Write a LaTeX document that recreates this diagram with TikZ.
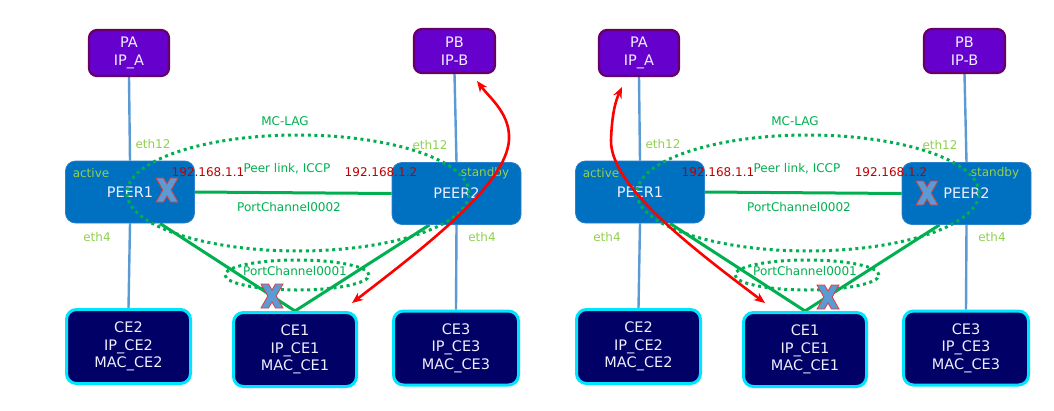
\documentclass[tikz,border=0pt]{standalone}
\usepackage{fontspec}
\setmainfont{DejaVu Sans}
\usetikzlibrary{shapes.geometric,arrows.meta}
\definecolor{pfill}{HTML}{6600CC}
\definecolor{pdraw}{HTML}{660066}
\definecolor{peerfill}{HTML}{0070C0}
\definecolor{peerdraw}{HTML}{2A82CC}
\definecolor{cefill}{HTML}{000066}
\definecolor{cedraw}{HTML}{00E5FF}
\definecolor{lnblue}{HTML}{5B9BD5}
\definecolor{lngreen}{HTML}{00B050}
\definecolor{lblgreen}{HTML}{92D050}
\definecolor{ipred}{HTML}{C00000}
\definecolor{xred}{HTML}{E03C3C}
\definecolor{arrred}{HTML}{FF0000}
\definecolor{boxtext}{HTML}{EEEEFF}
\pgfdeclarelayer{bg}
\pgfsetlayers{bg,main}
\tikzset{
  pbox/.style={draw=pdraw, fill=pfill, line width=2.2pt, rounded corners=8pt, text=boxtext,
    align=center, font=\fontsize{14.5}{18}\selectfont, inner sep=0pt},
  peerbox/.style={draw=peerdraw, fill=peerfill, line width=0.8pt, rounded corners=10pt,
    text=boxtext, font=\fontsize{14.5}{17}\selectfont, inner sep=0pt,
    minimum width=129pt, minimum height=62pt},
  cebox/.style={draw=cedraw, fill=cefill, line width=3pt, rounded corners=10pt, text=boxtext,
    align=center, font=\fontsize{14.5}{17.5}\selectfont, inner sep=0pt,
    minimum width=124pt, minimum height=74pt},
  bline/.style={draw=lnblue, line width=2.4pt},
  gline/.style={draw=lngreen, line width=3pt},
  dotell/.style={ellipse, draw=lngreen, line width=3pt, dash pattern=on 3pt off 3.6pt, inner sep=0pt},
  glbl/.style={text=lngreen, font=\fontsize{12}{13}\selectfont, inner sep=0pt},
  ylbl/.style={text=lblgreen, font=\fontsize{12}{13}\selectfont, inner sep=0pt},
  iplbl/.style={text=ipred, font=\fontsize{12}{13}\selectfont, inner sep=0pt},
  redarrow/.style={draw=arrred, line width=2.6pt,
    {Stealth[length=11pt,width=9pt]}-{Stealth[length=11pt,width=9pt]}},
  xmark/.style={fill=lnblue, draw=xred, line width=0.8pt},
}
\newcommand\crossmark[1]{%
  \begin{scope}[shift={(#1)}]
    \draw[xmark] (-11,-12) -- (-3.5,-12) -- (0,-6) -- (3.5,-12) -- (11,-12) -- (4.2,0)
      -- (11,12) -- (3.5,12) -- (0,6) -- (-3.5,12) -- (-11,12) -- (-4.2,0) -- cycle;
  \end{scope}}
\newcommand\mypanel[1]{%
  \node[pbox, minimum width=80pt, minimum height=46pt] (#1PA) at (129,53) {PA\\IP\_A};
  \node[pbox, minimum width=81pt, minimum height=44pt] (#1PB) at (454.5,51) {PB\\IP-B};
  \node[peerbox] (#1P1) at (130,192) {PEER1};
  \node[peerbox] (#1P2) at (456.5,193.5) {PEER2};
  \node[cebox, minimum width=124pt] (#1CE2) at (128.5,346.5) {CE2\\IP\_CE2\\MAC\_CE2};
  \node[cebox, minimum width=123pt] (#1CE1) at (295,349.5) {CE1\\IP\_CE1\\MAC\_CE1};
  \node[cebox, minimum width=125pt] (#1CE3) at (456,348) {CE3\\IP\_CE3\\MAC\_CE3};
  \begin{pgfonlayer}{bg}
    \draw[bline] (#1PA.south) -- (#1P1.north);
    \draw[bline] (#1P1.south) -- (#1CE2.north);
    \draw[bline] (#1PB.south) -- (#1P2.north);
    \draw[bline] (#1P2.south) -- (#1CE3.north);
    \draw[gline] (#1P1.east) -- (#1P2.west);
    \draw[gline] ([xshift=30pt]#1P1.south) -- (#1CE1.north);
    \draw[gline] ([xshift=-27pt]#1P2.south) -- (#1CE1.north);
  \end{pgfonlayer}
  \node[dotell, minimum width=342pt, minimum height=116pt] (#1mclag) at (298,193) {};
  \node[dotell, minimum width=144pt, minimum height=30pt] (#1pc1) at (297,275) {};
  \node[glbl] (#1lmclag) at (285,121) {MC-LAG};
  \node[ylbl] (#1le12a) at (153,144) {eth12};
  \node[ylbl] (#1le12b) at (430,145) {eth12};
  \node[ylbl] (#1lact) at (91,173) {active};
  \node[ylbl] (#1lstb) at (485,173) {standby};
  \node[iplbl] (#1lip1) at (208,172) {192.168.1.1};
  \node[iplbl] (#1lip2) at (381,172) {192.168.1.2};
  \node[glbl] (#1lpl) at (287,169) {Peer link, ICCP};
  \node[glbl] (#1lpc2) at (289,207) {PortChannel0002};
  \node[ylbl] (#1le4a) at (97,237) {eth4};
  \node[ylbl] (#1le4b) at (482,237) {eth4};
  \node[glbl] (#1lpc1) at (295,271) {PortChannel0001};
}
\begin{document}
\begin{tikzpicture}[x=1pt,y=-1pt]
  \useasboundingbox (0,0) rectangle (1054,410);
  \begin{pgfonlayer}{bg}
    \fill[white] (0,0) rectangle (1054,410);
  \end{pgfonlayer}
  % left panel
  \mypanel{L}
  \coordinate (Lx1) at (167,190);
  \coordinate (Lx2) at (272,296);
  \crossmark{Lx1}
  \crossmark{Lx2}
  \coordinate (La1) at (352,303);
  \coordinate (La2) at (477,81);
  \draw[redarrow] (La1) .. controls (430,243) and (512,180) .. (509,135)
      .. controls (508,112) and (489,97) .. (La2);
  % right panel
  \begin{scope}[xshift=510pt]
    \mypanel{R}
    \coordinate (Rx1) at (417,193);
    \coordinate (Rx2) at (318,297);
    \crossmark{Rx1}
    \crossmark{Rx2}
  \end{scope}
  \coordinate (Ra1) at (765,303);
  \coordinate (Ra2) at (622,87);
  \draw[redarrow] (Ra1) .. controls (688,245) and (610,185) .. (611,140)
      .. controls (612,112) and (616,100) .. (Ra2);
\end{tikzpicture}
\end{document}
